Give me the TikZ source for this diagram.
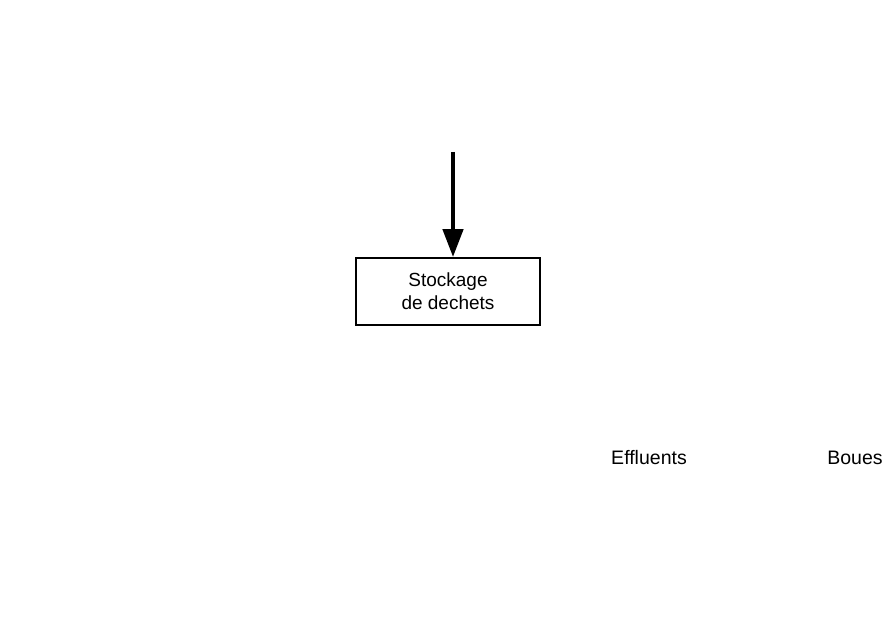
\documentclass[tikz,border=0pt]{standalone}
\usepackage{fontspec}
\setmainfont{Liberation Sans}
\usetikzlibrary{arrows.meta,positioning}

\begin{document}
\begin{tikzpicture}[x=1pt,y=-1pt,
  s/.style={draw=black,line width=1.8pt,minimum width=184pt,minimum height=67pt,
            align=center,inner sep=0pt,font=\fontsize{19}{23}\selectfont},
  l/.style={font=\fontsize{19.5}{22}\selectfont,inner sep=0pt},
  a/.style={-{Triangle[length=28pt,width=20pt]},line width=4.5pt}
]
  \useasboundingbox (0,0) rectangle (888,628);
  \node[s] (stock) at (448,291.5) {Stockage\\de dechets};
  \node[l] (effl) at (649,458) {Effluents};
  \node[l] (boues) at (855,458) {Boues};
  \coordinate (arrTop) at (453,152);
  \draw[a] (arrTop) -- (arrTop |- stock.north);
\end{tikzpicture}
\end{document}
